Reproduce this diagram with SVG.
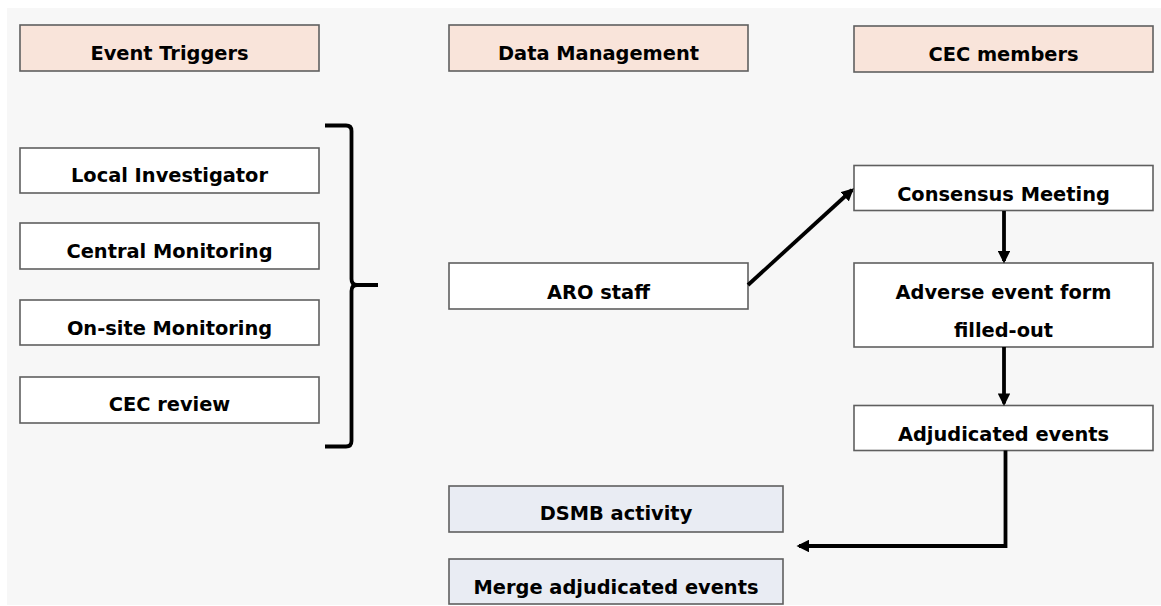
<svg xmlns="http://www.w3.org/2000/svg" width="1161" height="606" viewBox="0 0 1161 606">
  <style>
    .box { stroke: #5f5f5f; stroke-width: 1.6; }
    .head { fill: #f9e4da; }
    .plain { fill: #ffffff; }
    .blue { fill: #e9ecf3; }
    .lbl { font-family: "DejaVu Sans", Verdana, sans-serif; font-weight: bold; font-size: 19.4px; fill: #000; text-anchor: middle; }
    .wire { fill: none; stroke: #000; stroke-width: 3.8; }
  </style>
  <defs>
    <marker id="arrow" viewBox="0 0 10 10" refX="8" refY="5" markerWidth="3.3" markerHeight="3.3" orient="auto" markerUnits="strokeWidth">
      <path d="M0,0 L10,5 L0,10 z" fill="#000"/>
    </marker>
  </defs>

  <rect x="0" y="0" width="1161" height="606" fill="#ffffff"/>
  <rect x="7" y="8" width="1154" height="597" fill="#f7f7f7"/>

  <!-- column headers -->
  <g id="hdr-triggers">
    <rect class="box head" x="20" y="25" width="299" height="46"/>
    <text class="lbl" x="169.5" y="60">Event Triggers</text>
  </g>
  <g id="hdr-data">
    <rect class="box head" x="449" y="25" width="299" height="46"/>
    <text class="lbl" x="598.5" y="60">Data Management</text>
  </g>
  <g id="hdr-cec">
    <rect class="box head" x="854" y="26" width="299" height="46"/>
    <text class="lbl" x="1003.5" y="61">CEC members</text>
  </g>

  <!-- event triggers -->
  <g id="local-investigator">
    <rect class="box plain" x="20" y="148" width="299" height="45"/>
    <text class="lbl" x="169.5" y="182">Local Investigator</text>
  </g>
  <g id="central-monitoring">
    <rect class="box plain" x="20" y="223" width="299" height="46"/>
    <text class="lbl" x="169.5" y="258">Central Monitoring</text>
  </g>
  <g id="onsite-monitoring">
    <rect class="box plain" x="20" y="300" width="299" height="45"/>
    <text class="lbl" x="169.5" y="335">On-site Monitoring</text>
  </g>
  <g id="cec-review">
    <rect class="box plain" x="20" y="377" width="299" height="46"/>
    <text class="lbl" x="169.5" y="411">CEC review</text>
  </g>

  <!-- data management -->
  <g id="aro-staff">
    <rect class="box plain" x="449" y="263" width="299" height="46"/>
    <text class="lbl" x="598.5" y="299">ARO staff</text>
  </g>
  <g id="dsmb-activity">
    <rect class="box blue" x="449" y="486" width="334" height="46"/>
    <text class="lbl" x="616" y="520">DSMB activity</text>
  </g>
  <g id="merge-events">
    <rect class="box blue" x="449" y="559" width="334" height="45"/>
    <text class="lbl" x="616" y="594">Merge adjudicated events</text>
  </g>

  <!-- CEC members -->
  <g id="consensus-meeting">
    <rect class="box plain" x="854" y="165.5" width="299" height="45"/>
    <text class="lbl" x="1003.5" y="201">Consensus Meeting</text>
  </g>
  <g id="ae-form">
    <rect class="box plain" x="854" y="263" width="299" height="84"/>
    <text class="lbl" x="1003.5" y="298.5">Adverse event form</text>
    <text class="lbl" x="1003.5" y="337">filled-out</text>
  </g>
  <g id="adjudicated-events">
    <rect class="box plain" x="854" y="405.5" width="299" height="45"/>
    <text class="lbl" x="1003.5" y="441">Adjudicated events</text>
  </g>

  <!-- connectors -->
  <g id="connectors">
    <path class="wire" d="M325,125.5 L346,125.5 Q351.5,125.5 351.5,131 L351.5,279 Q351.5,285 357,285 L378,285 M357,285 Q351.5,285 351.5,291 L351.5,441 Q351.5,446.5 346,446.5 L325,446.5"/>
    <line class="wire" x1="748" y1="285" x2="852" y2="190" marker-end="url(#arrow)"/>
    <line class="wire" x1="1004" y1="211" x2="1004" y2="261" marker-end="url(#arrow)"/>
    <line class="wire" x1="1004" y1="347" x2="1004" y2="403.5" marker-end="url(#arrow)"/>
    <path class="wire" d="M1005.5,450.5 L1005.5,546 L799,546" marker-end="url(#arrow)"/>
  </g>
</svg>
